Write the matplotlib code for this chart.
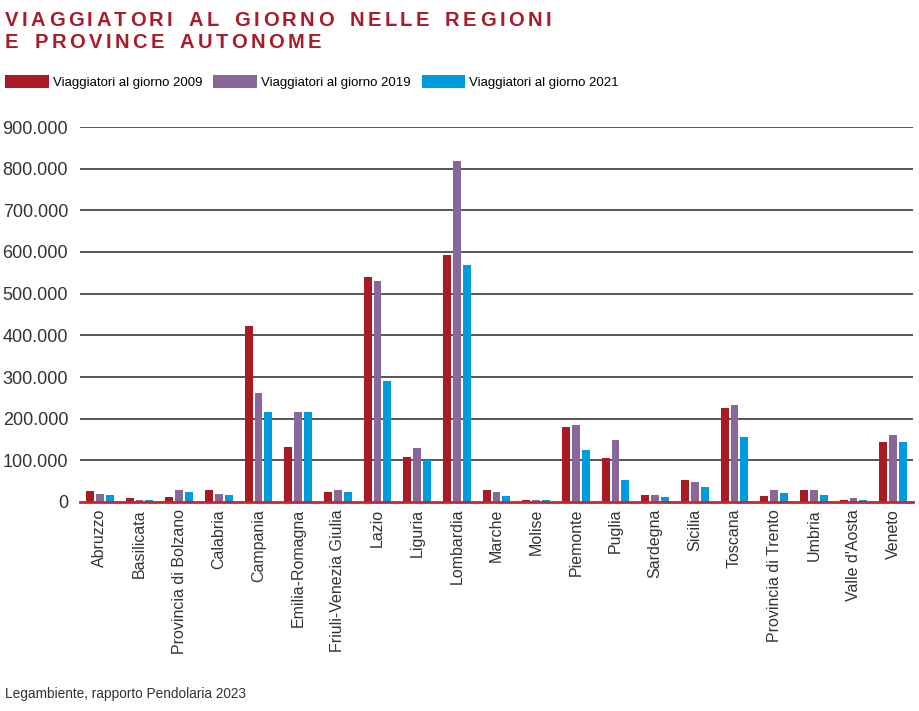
import numpy as np
import matplotlib
matplotlib.use('Agg')
from matplotlib import pyplot as plt
from matplotlib.patches import Patch

regioni = ['Abruzzo', 'Basilicata', 'Provincia di Bolzano', 'Calabria', 'Campania',
           'Emilia-Romagna', 'Friuli-Venezia Giulia', 'Lazio', 'Liguria', 'Lombardia',
           'Marche', 'Molise', 'Piemonte', 'Puglia', 'Sardegna', 'Sicilia', 'Toscana',
           'Provincia di Trento', 'Umbria', "Valle d'Aosta", 'Veneto']

v2009 = [26000, 9000, 13000, 28000, 422000, 131000, 23000, 539000, 107000, 592000,
         28000, 6000, 179000, 105000, 16000, 54000, 225000, 14000, 28000, 4000, 143000]
v2019 = [20000, 6000, 30000, 20000, 261000, 215000, 30000, 530000, 129000, 818000,
         23000, 6000, 186000, 150000, 18000, 47000, 232000, 30000, 28000, 9000, 160000]
v2021 = [16000, 6000, 25000, 16000, 215000, 215000, 23000, 290000, 102000, 568000,
         14000, 4000, 126000, 54000, 11000, 35000, 155000, 21000, 18000, 6000, 143000]

series_labels = ['Viaggiatori al giorno 2009', 'Viaggiatori al giorno 2019',
                 'Viaggiatori al giorno 2021']
colori = ['#aa1a23', '#89679b', '#009bde']
yticks = [0, 100000, 200000, 300000, 400000, 500000, 600000, 700000, 800000, 900000]
ytick_labels = ['0', '100.000', '200.000', '300.000', '400.000', '500.000',
                '600.000', '700.000', '800.000', '900.000']

plt.rcParams['font.family'] = ['Liberation Sans', 'DejaVu Sans']

W, H = 919, 711
fig = plt.figure(figsize=(W / 100, H / 100), dpi=100)
ax = fig.add_axes([80 / W, 1 - 502 / H, 833 / W, 375 / H])

x = np.arange(len(regioni)) + 0.5
for k, (vals, col) in enumerate(zip([v2009, v2019, v2021], colori)):
    ax.bar(x + (k - 1) * 0.25, vals, width=0.2, color=col, zorder=3)

ax.set_xlim(0, len(regioni))
ax.set_ylim(0, 900000)
ax.set_yticks(yticks)
ax.set_yticklabels(ytick_labels, fontsize=13, color='#333333')
ax.set_xticks(x)
ax.set_xticklabels(regioni, rotation=90, fontsize=11.5, color='#333333')
ax.tick_params(axis='both', length=0)
ax.tick_params(axis='y', pad=8.5)
ax.tick_params(axis='x', pad=5)

for s in ['top', 'right', 'left']:
    ax.spines[s].set_visible(False)
ax.spines['bottom'].set_color('#c8252c')
ax.spines['bottom'].set_linewidth(2)
ax.spines['bottom'].set_zorder(4)
for t in yticks[1:]:
    ax.axhline(t, color='#3a3a3a', lw=1.2, zorder=1)

# titolo con spaziatura tra le lettere (matplotlib non ha letter-spacing)
renderer = fig.canvas.get_renderer()
def make_chars(s, size):
    texts = []
    widths = []
    for ch in s:
        t = fig.text(0, 0, ch, fontsize=size, fontweight='bold', color='#a81c2a',
                     transform=None, va='baseline')
        if ch == ' ':
            w = size * 100 / 72 * 0.45
        else:
            w = t.get_window_extent(renderer).width
        texts.append(t)
        widths.append(w)
    return texts, widths

def place(texts, widths, x0, ybase, gap):
    xpos = x0
    for t, w in zip(texts, widths):
        t.set_position((xpos, H - ybase))
        xpos += w + gap

line1 = 'VIAGGIATORI AL GIORNO NELLE REGIONI'
line2 = 'E PROVINCE AUTONOME'
t1, w1 = make_chars(line1, 14.5)
t2, w2 = make_chars(line2, 14.5)
gap = (546 - sum(w1)) / (len(line1) - 1)
place(t1, w1, 5, 26, gap)
place(t2, w2, 5, 48, gap)

handles = [Patch(facecolor=c, edgecolor='none') for c in colori]
fig.legend(handles, series_labels, loc='upper left', bbox_to_anchor=(0.0, 1 - 70 / H),
           ncol=3, frameon=False, fontsize=9.5, handlelength=3.3, handleheight=1.1,
           handletextpad=0.3, columnspacing=0.85, borderaxespad=0.2, borderpad=0.2)

fig.text(5 / W, 1 - 698 / H, 'Legambiente, rapporto Pendolaria 2023', fontsize=9.8,
         color='#333333')

fig.savefig('out.png', dpi=100)
